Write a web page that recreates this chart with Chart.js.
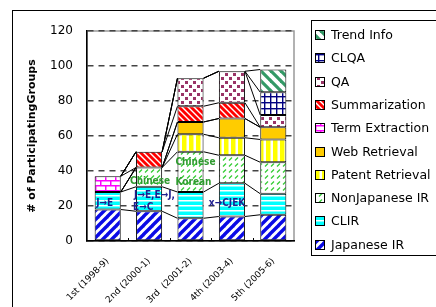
<!DOCTYPE html>
<html>
<head>
<meta charset="utf-8">
<script src="https://cdn.jsdelivr.net/npm/chart.js@4"></script>
<style>
  body { margin: 0; background: #fff; }
  #grafico { display: block; }
</style>
</head>
<body>
<canvas id="grafico" width="436" height="307"></canvas>
<script>
// dados (participantes por tarefa em cada edição)
const categorias = ['1st (1998-9)', '2nd (2000-1)', '3rd  (2001-2)', '4th (2003-4)', '5th (2005-6)'];
const japaneseIR = [18, 17, 13, 14, 15];
const clir = [10, 14, 15, 19, 12];
const nonJapaneseIR = [0, 11, 23, 16, 18];
const patentRetrieval = [0, 0, 10, 10, 13];
const webRetrieval = [0, 0, 7, 11, 7];
const termExtraction = [9, 0, 0, 0, 0];
const summarization = [0, 9, 9, 9, 0];
const qa = [0, 0, 16, 18, 7];
const clqa = [0, 0, 0, 0, 13];
const trendInfo = [0, 0, 0, 0, 13];
const ticksY = [0, 20, 40, 60, 80, 100, 120];

// anotações dentro das barras
const notas = [
  { barra: 0, valor: 21.3, texto: 'J\u2192E', cor: '#1f1f8f', dx: 1.5 },
  { barra: 1, valor: 26, texto: 'J\u2192E,E\u2192J,', cor: '#1f1f8f', dx: -2 },
  { barra: 1, valor: 19, texto: 'E\u2192C', cor: '#1f1f8f', dx: -3 },
  { barra: 1, valor: 34, texto: 'Chinese', cor: '#2f9a2f', dx: -6 },
  { barra: 2, valor: 45, texto: 'Chinese', cor: '#2f9a2f', dx: -2 },
  { barra: 2, valor: 33.5, texto: 'Korean', cor: '#2f9a2f', dx: -2 },
  { barra: 3, valor: 21.7, texto: 'x\u2192CJEK', cor: '#1f1f8f', dx: -10 },
];

function padrao(w, h, desenha) {
  const c = document.createElement('canvas');
  c.width = w; c.height = h;
  const g = c.getContext('2d');
  g.fillStyle = '#fff';
  g.fillRect(0, 0, w, h);
  desenha(g, w, h);
  return g.createPattern(c, 'repeat');
}

function listras(s, cor, largura, subindo) {
  return padrao(s, s, (g) => {
    g.strokeStyle = cor;
    g.lineWidth = largura;
    for (let k = -s; k <= s; k += s) {
      g.beginPath();
      if (subindo) { g.moveTo(k - 1, s + 1); g.lineTo(k + s + 1, -1); }
      else { g.moveTo(k - 1, -1); g.lineTo(k + s + 1, s + 1); }
      g.stroke();
    }
  });
}

const pJapanese = listras(9, '#0a0ae6', 3.4, true);
const pClir = padrao(5, 5, (g) => { g.fillStyle = '#00ffff'; g.fillRect(0, 1.5, 5, 3.5); });
const pNonJ = padrao(6, 6, (g) => {
  g.strokeStyle = '#33cc33'; g.lineWidth = 1.2;
  g.beginPath(); g.moveTo(1, 4.5); g.lineTo(4, 1.5); g.stroke();
});
const pPatent = padrao(7, 7, (g) => { g.fillStyle = '#ffff00'; g.fillRect(0, 0, 4.5, 7); });
const pWeb = '#ffcc00';
const pTerm = padrao(10, 10, (g) => {
  g.strokeStyle = '#ff00ff'; g.lineWidth = 1.5;
  g.beginPath();
  g.moveTo(0, 0.75); g.lineTo(10, 0.75);
  g.moveTo(0, 5.75); g.lineTo(10, 5.75);
  g.moveTo(0.75, 0); g.lineTo(0.75, 5.75);
  g.moveTo(5.75, 5.75); g.lineTo(5.75, 10);
  g.stroke();
});
const pSumm = listras(6, '#ff0000', 2.8, false);
const pQa = padrao(8, 8, (g) => {
  g.fillStyle = '#993366';
  g.fillRect(1, 1, 3, 3);
  g.fillRect(5, 5, 3, 3);
});
const pClqa = padrao(6, 6, (g) => {
  g.fillStyle = '#000080';
  g.fillRect(0, 0, 6, 1.4);
  g.fillRect(0, 0, 1.4, 6);
});
const pTrend = listras(10, '#339966', 3.2, false);

const series = [
  ['Japanese IR', japaneseIR, pJapanese],
  ['CLIR', clir, pClir],
  ['NonJapanese IR', nonJapaneseIR, pNonJ],
  ['Patent Retrieval', patentRetrieval, pPatent],
  ['Web Retrieval', webRetrieval, pWeb],
  ['Term Extraction', termExtraction, pTerm],
  ['Summarization', summarization, pSumm],
  ['QA', qa, pQa],
  ['CLQA', clqa, pClqa],
  ['Trend Info', trendInfo, pTrend],
];

const fundoEMoldura = {
  id: 'fundoEMoldura',
  beforeDraw(chart) {
    const { ctx, chartArea: a } = chart;
    ctx.save();
    ctx.fillStyle = '#fff';
    ctx.fillRect(0, 0, chart.width, chart.height);
    ctx.strokeStyle = '#999';
    ctx.lineWidth = 1.5;
    ctx.strokeRect(a.left, a.top, a.right - a.left, a.bottom - a.top);
    ctx.restore();
  },
  afterDatasetsDraw(chart) {
    const ctx = chart.ctx;
    const sx = chart.scales.x, sy = chart.scales.y;
    ctx.save();
    // linhas de série entre as barras
    ctx.strokeStyle = '#000';
    ctx.lineWidth = 1;
    chart.data.datasets.forEach((d, i) => {
      const barras = chart.getDatasetMeta(i).data;
      for (let k = 0; k < barras.length - 1; k++) {
        const a = barras[k], b = barras[k + 1];
        ctx.beginPath();
        ctx.moveTo(a.x + a.width / 2, a.y);
        ctx.lineTo(b.x - b.width / 2, b.y);
        ctx.stroke();
      }
    });
    // pequenas marcas do eixo x entre as categorias
    for (let k = 1; k < categorias.length; k++) {
      const x = Math.round((sx.getPixelForValue(k - 1) + sx.getPixelForValue(k)) / 2) + 0.5;
      ctx.beginPath();
      ctx.moveTo(x, sy.bottom);
      ctx.lineTo(x, sy.bottom - 3);
      ctx.stroke();
    }
    // textos
    ctx.font = 'bold 10px "DejaVu Sans Condensed", "DejaVu Sans"';
    ctx.textBaseline = 'middle';
    ctx.textAlign = 'left';
    const larg = chart.getDatasetMeta(0).data[0].width;
    notas.forEach((n) => {
      ctx.fillStyle = n.cor;
      ctx.fillText(n.texto, sx.getPixelForValue(n.barra) - larg / 2 + n.dx, sy.getPixelForValue(n.valor));
    });
    ctx.restore();
  },
  afterDraw(chart) {
    const ctx = chart.ctx;
    ctx.save();
    ctx.strokeStyle = '#000';
    ctx.lineWidth = 1;
    ctx.strokeRect(12.5, 10.5, 600, 600);
    ctx.strokeRect(311.5, 20.5, 300, 235);
    ctx.font = '12.5px "DejaVu Sans"';
    ctx.textBaseline = 'middle';
    const lista = chart.data.datasets.slice().reverse();
    lista.forEach((d, i) => {
      const y = Math.round(35 + i * 23.3);
      ctx.fillStyle = d.backgroundColor;
      ctx.fillRect(315, y - 5, 10, 10);
      ctx.strokeRect(315.5, y - 4.5, 9, 9);
      ctx.fillStyle = '#000';
      ctx.fillText(d.label, 331, y + 1);
    });
    ctx.restore();
  },
};

function criarGrafico() {
  const canvas = document.getElementById('grafico');
  const contexto = canvas.getContext('2d');
  new Chart(contexto, {
    type: 'bar',
    data: {
      labels: categorias,
      datasets: series.map(([nome, valores, fundo]) => ({
        label: nome,
        data: valores,
        backgroundColor: fundo,
        borderColor: '#000',
        borderWidth: 1,
        borderSkipped: false,
        categoryPercentage: 1,
        barPercentage: 0.63,
      })),
    },
    options: {
      responsive: false,
      animation: false,
      devicePixelRatio: 1,
      layout: { padding: { left: 14, top: 31, right: 142, bottom: 0 } },
      plugins: {
        legend: { display: false },
        tooltip: { enabled: false },
      },
      scales: {
        x: {
          stacked: true,
          grid: { display: false, drawTicks: false },
          border: { display: true, color: '#000', width: 1.5 },
          ticks: {
            autoSkip: false,
            minRotation: 45,
            maxRotation: 45,
            padding: 15,
            color: '#000',
            font: { family: 'DejaVu Sans', size: 9 },
          },
          afterFit: (s) => { s.height = 66; },
        },
        y: {
          stacked: true,
          min: 0,
          max: 120,
          afterBuildTicks: (s) => { s.ticks = ticksY.map((v) => ({ value: v })); },
          grid: { color: '#444', lineWidth: 1.4, drawTicks: false },
          border: { display: true, color: '#000', width: 1.5, dash: [6, 5] },
          ticks: {
            padding: 14,
            color: '#000',
            font: { family: 'DejaVu Sans', size: 12 },
          },
          title: {
            display: true,
            text: '# of ParticipatingGroups',
            color: '#000',
            padding: { top: 12, bottom: 0 },
            font: { family: 'DejaVu Sans', size: 11, weight: 'bold' },
          },
          afterFit: (s) => { s.width = 73; },
        },
      },
    },
    plugins: [fundoEMoldura],
  });
}

document.addEventListener('DOMContentLoaded', criarGrafico);
</script>
</body>
</html>
